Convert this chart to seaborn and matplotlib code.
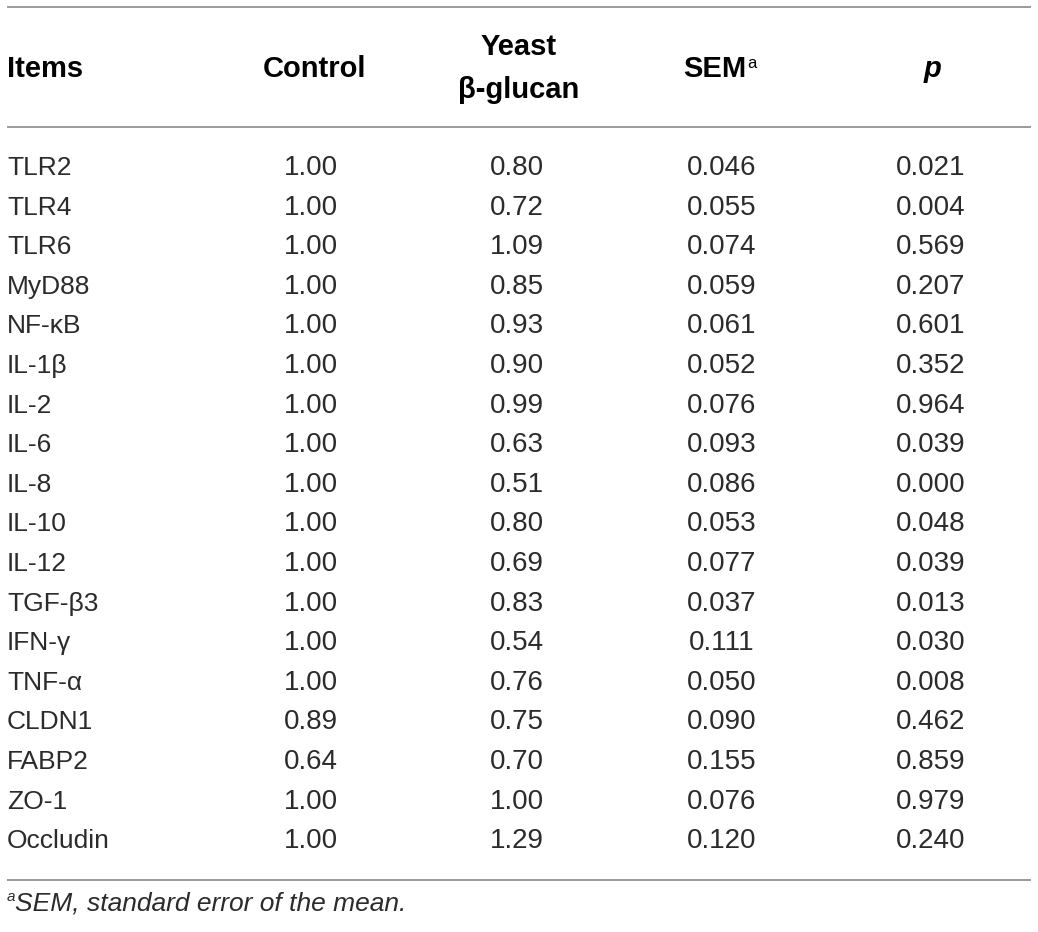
import matplotlib
matplotlib.use("Agg")
import matplotlib.pyplot as plt
import seaborn as sns

# ============================================================
# DATA
# ============================================================

items = ["TLR2", "TLR4", "TLR6", "MyD88", "NF-κB", "IL-1β", "IL-2", "IL-6",
         "IL-8", "IL-10", "IL-12", "TGF-β3", "IFN-γ", "TNF-α", "CLDN1",
         "FABP2", "ZO-1", "Occludin"]
control = ["1.00", "1.00", "1.00", "1.00", "1.00", "1.00", "1.00", "1.00",
           "1.00", "1.00", "1.00", "1.00", "1.00", "1.00", "0.89", "0.64",
           "1.00", "1.00"]
yeast = ["0.80", "0.72", "1.09", "0.85", "0.93", "0.90", "0.99", "0.63",
         "0.51", "0.80", "0.69", "0.83", "0.54", "0.76", "0.75", "0.70",
         "1.00", "1.29"]
sem = ["0.046", "0.055", "0.074", "0.059", "0.061", "0.052", "0.076", "0.093",
       "0.086", "0.053", "0.077", "0.037", "0.111", "0.050", "0.090", "0.155",
       "0.076", "0.120"]
p_values = ["0.021", "0.004", "0.569", "0.207", "0.601", "0.352", "0.964",
            "0.039", "0.000", "0.048", "0.039", "0.013", "0.030", "0.008",
            "0.462", "0.859", "0.979", "0.240"]

footnote = "SEM, standard error of the mean."

# ============================================================
# STYLE
# ============================================================

sns.set_theme(style="white")
plt.rcParams["font.family"] = ["Liberation Sans", "DejaVu Sans"]

W, H = 1038, 932
fig = plt.figure(figsize=(W / 100, H / 100), dpi=100)
ax = fig.add_axes([0, 0, 1, 1])
ax.set_xlim(0, W)
ax.set_ylim(H, 0)
ax.axis("off")

body_color = "#2b2b2b"
rule_color = "#9a9a9a"
fs_label = 19
fs_num = 20
fs_head = 21

# horizontal rules
for yline in (7, 127, 880):
    ax.plot([7, 1031], [yline, yline], color=rule_color, lw=1.4,
            solid_capstyle="butt")

# header
hy = 69
head = dict(va="center", fontsize=fs_head, fontweight="bold", color="black")
ax.text(7, hy, "Items", ha="left", **head)
ax.text(314, hy, "Control", ha="center", **head)
ax.text(519, 47, "Yeast", ha="center", **head)
ax.text(519, 90, "β-glucan", ha="center", **head)
ax.text(746, hy, "SEM", ha="right", **head)
ax.text(747, hy - 6, "a", ha="left", va="center", fontsize=12,
        color="black")
ax.text(933, hy, "p", ha="center", fontstyle="italic", **head)

# body rows
y0, step = 168, 39.6
cols = [(control, 311), (yeast, 517), (sem, 722), (p_values, 931)]
for i, name in enumerate(items):
    y = y0 + i * step
    ax.text(7, y, name, ha="left", va="center", fontsize=fs_label,
            color=body_color)
    for values, xc in cols:
        ax.text(xc, y, values[i], ha="center", va="center", fontsize=fs_num,
                color=body_color)

# footnote
ax.text(7, 897, "a", ha="left", va="center", fontsize=11,
        fontstyle="italic", color=body_color)
ax.text(15, 903, footnote, ha="left", va="center", fontsize=19,
        fontstyle="italic", color=body_color)

fig.savefig("out.png", dpi=100)
plt.close(fig)
